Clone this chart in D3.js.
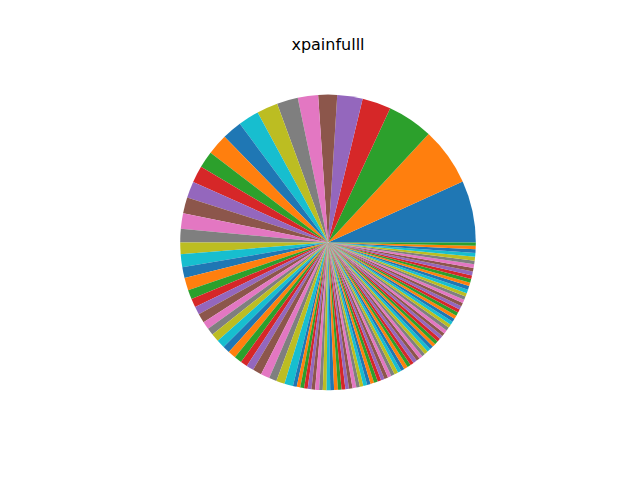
<!DOCTYPE html>
<html>
<head>
<meta charset="utf-8">
<script src="https://cdn.jsdelivr.net/npm/d3@7"></script>
<style>
  html, body { margin: 0; padding: 0; background: #fff; }
  svg { display: block; }
</style>
</head>
<body>
<svg id="chart"></svg>
<script>
// slice sizes (in degrees, so they add up to 360)
const bigSlices = [24.3, 22.8, 18.0, 11.3, 10.0, 7.4, 8.0, 8.3, 8.3, 8.2,
  7.8, 8.2, 6.6, 6.6, 6.5, 6.3, 6.1, 5.3];
const midSlices = [4.5, 5.1, 4.3, 4.9, 3.7, 3.4, 3.1, 3.6,
  3.1, 2.8, 3.2, 3.3, 2.8, 3.1, 3.0, 2.7, 2.9, 3.5, 3.5, 3.0, 3.3, 3.4];
const smallSlices = [1.5, 1.4, 1.5, 1.4, 1.5, 1.4, 1.6, 1.4, 1.5, 1.4,
  1.5, 1.5, 1.4, 1.5, 1.4,
  1.4, 1.5, 1.4, 1.4, 1.5, 1.4, 1.4, 1.5, 1.4, 1.4,
  1.5, 1.4, 1.4, 1.5, 1.4, 1.4, 1.5, 1.4, 1.4, 1.5,
  1.4, 1.4, 1.3, 1.4, 1.4, 1.4, 1.3, 1.4, 1.4, 1.4,
  1.3, 1.4, 1.4, 1.4, 1.3, 1.4, 1.4, 1.4, 1.3, 1.4,
  1.4, 1.4, 1.3, 1.4, 1.4,
  1.5, 1.4, 1.5, 1.4, 1.5, 1.4, 1.5, 1.4, 1.5, 1.5,
  1.4, 1.4, 1.3];
const values = [...bigSlices, ...midSlices, ...smallSlices];
const chartTitle = "xpainfulll";
const palette = ["#1f77b4", "#ff7f0e", "#2ca02c", "#d62728", "#9467bd",
  "#8c564b", "#e377c2", "#7f7f7f", "#bcbd22", "#17becf"];

const width = 640, height = 480;
const cx = 328, cy = 242.4, radius = 147.8;

const svg = d3.select("#chart").attr("width", width).attr("height", height);

// matplotlib style: start at 3 o'clock, go counter-clockwise
const pie = d3.pie()
  .sort(null)
  .value((d) => d)
  .startAngle(Math.PI / 2)
  .endAngle(Math.PI / 2 - 2 * Math.PI);

const arc = d3.arc().innerRadius(0).outerRadius(radius);
const color = d3.scaleOrdinal().domain(d3.range(10)).range(palette);

svg.append("g")
  .attr("transform", `translate(${cx},${cy})`)
  .selectAll("path")
  .data(pie(values))
  .join("path")
  .attr("d", arc)
  .attr("fill", (d, i) => color(i % 10));

svg.append("text")
  .attr("x", cx)
  .attr("y", 49.5)
  .attr("text-anchor", "middle")
  .attr("font-family", "DejaVu Sans, sans-serif")
  .attr("font-size", 16)
  .attr("fill", "#000")
  .text(chartTitle);
</script>
</body>
</html>
